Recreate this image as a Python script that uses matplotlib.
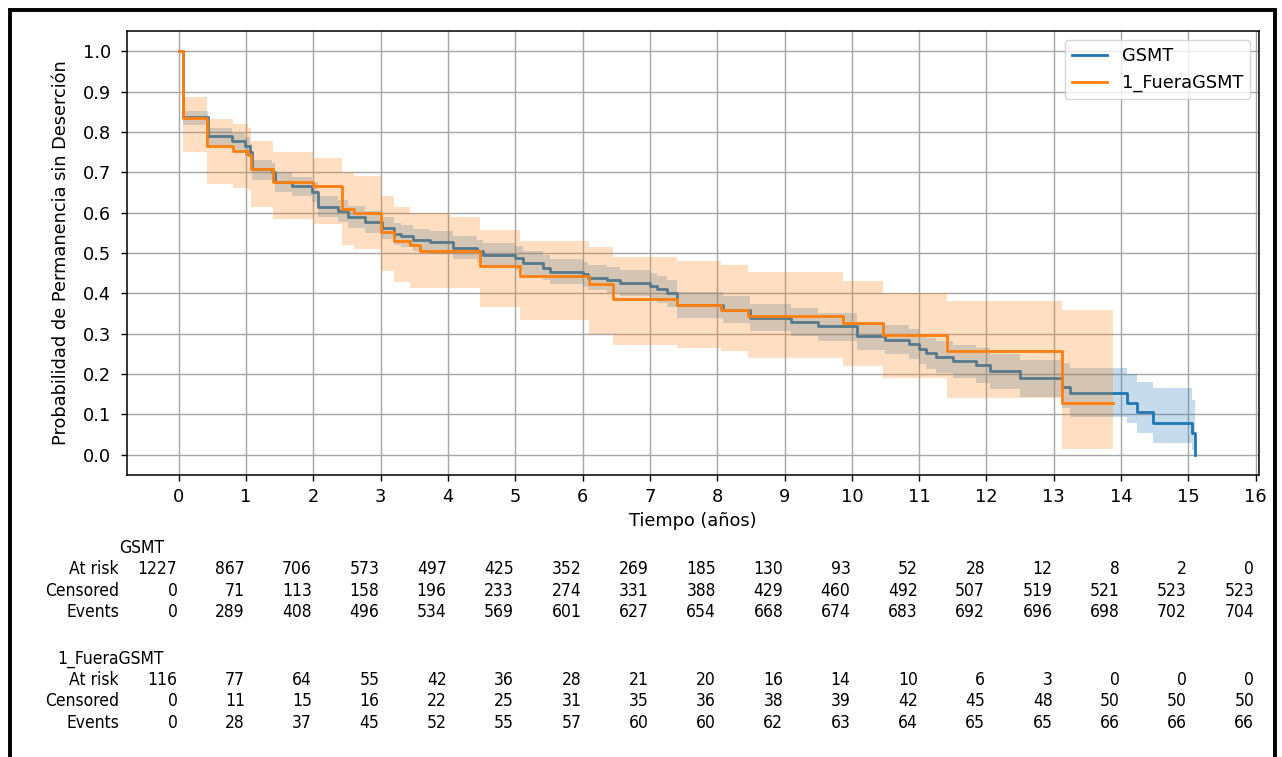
import matplotlib
matplotlib.use("Agg")
import matplotlib.pyplot as plt
from matplotlib.transforms import blended_transform_factory
from matplotlib.patches import Rectangle
from matplotlib import font_manager

# ---------------- data ----------------
gs_label = "GSMT"
fu_label = "1_FueraGSMT"

gs_t = [0, 0.06, 0.43, 0.79, 0.98, 1.06, 1.08, 1.38, 1.43, 1.68, 1.98, 2.07, 2.36, 2.51, 2.76,
        3.02, 3.2, 3.3, 3.48, 3.73, 4.07, 4.43, 4.52, 5.0, 5.11, 5.41, 5.51, 6.0, 6.08, 6.36,
        6.55, 7.0, 7.1, 7.25, 7.4, 8.08, 8.48, 9.1, 9.5, 10.07, 10.5, 10.85, 11.0, 11.1, 11.25,
        11.5, 11.85, 12.05, 12.5, 13.12, 13.24, 14.09, 14.23, 14.47, 15.05, 15.1]
gs_s = [1.0, 0.836, 0.789, 0.777, 0.765, 0.749, 0.707, 0.70, 0.677, 0.665, 0.652, 0.615, 0.605, 0.59, 0.578,
        0.562, 0.548, 0.543, 0.533, 0.527, 0.513, 0.504, 0.496, 0.488, 0.476, 0.464, 0.454, 0.447, 0.439, 0.434,
        0.426, 0.418, 0.41, 0.40, 0.372, 0.36, 0.34, 0.33, 0.318, 0.295, 0.285, 0.275, 0.262, 0.252, 0.243,
        0.232, 0.222, 0.207, 0.19, 0.169, 0.154, 0.129, 0.107, 0.079, 0.055, 0.0]
gs_hi = [1.0, 0.853, 0.81, 0.798, 0.787, 0.771, 0.73, 0.724, 0.701, 0.689, 0.677, 0.641, 0.631, 0.616, 0.604,
         0.589, 0.575, 0.57, 0.56, 0.555, 0.541, 0.532, 0.525, 0.517, 0.505, 0.494, 0.484, 0.477, 0.47, 0.465,
         0.457, 0.45, 0.442, 0.432, 0.404, 0.393, 0.374, 0.364, 0.352, 0.33, 0.322, 0.312, 0.30, 0.29, 0.282,
         0.273, 0.264, 0.25, 0.235, 0.228, 0.216, 0.2, 0.181, 0.166, 0.136, 0.136]
gs_lo = [1.0, 0.817, 0.766, 0.754, 0.741, 0.725, 0.682, 0.675, 0.652, 0.64, 0.626, 0.588, 0.578, 0.563, 0.55,
         0.534, 0.52, 0.515, 0.504, 0.498, 0.484, 0.475, 0.466, 0.458, 0.446, 0.433, 0.423, 0.416, 0.408, 0.402,
         0.394, 0.386, 0.377, 0.367, 0.339, 0.326, 0.306, 0.295, 0.283, 0.26, 0.249, 0.238, 0.224, 0.213, 0.203,
         0.19, 0.178, 0.162, 0.144, 0.117, 0.094, 0.079, 0.055, 0.03, 0.012, 0.0]

fu_t = [0, 0.06, 0.42, 0.8, 1.03, 1.07, 1.4, 2.0, 2.42, 2.6, 3.0, 3.2, 3.43, 3.58, 4.03,
        4.47, 5.07, 6.1, 6.45, 7.4, 8.06, 8.45, 9.87, 10.46, 11.41, 13.12, 13.88]
fu_s = [1.0, 0.835, 0.765, 0.752, 0.744, 0.707, 0.677, 0.665, 0.608, 0.60, 0.551, 0.529, 0.521, 0.504, 0.504,
        0.467, 0.442, 0.422, 0.385, 0.372, 0.36, 0.345, 0.327, 0.298, 0.256, 0.129, 0.129]
fu_hi = [1.0, 0.886, 0.831, 0.819, 0.81, 0.777, 0.749, 0.735, 0.70, 0.69, 0.64, 0.613, 0.60, 0.60, 0.588,
         0.558, 0.529, 0.516, 0.489, 0.48, 0.471, 0.452, 0.43, 0.40, 0.38, 0.36, 0.36]
fu_lo = [1.0, 0.749, 0.67, 0.662, 0.655, 0.613, 0.585, 0.572, 0.52, 0.51, 0.455, 0.427, 0.414, 0.414, 0.414,
         0.365, 0.335, 0.30, 0.273, 0.265, 0.256, 0.24, 0.22, 0.19, 0.141, 0.015, 0.015]

table_times = list(range(0, 17))
gs_at_risk = [1227, 867, 706, 573, 497, 425, 352, 269, 185, 130, 93, 52, 28, 12, 8, 2, 0]
gs_censored = [0, 71, 113, 158, 196, 233, 274, 331, 388, 429, 460, 492, 507, 519, 521, 523, 523]
gs_events = [0, 289, 408, 496, 534, 569, 601, 627, 654, 668, 674, 683, 692, 696, 698, 702, 704]
fu_at_risk = [116, 77, 64, 55, 42, 36, 28, 21, 20, 16, 14, 10, 6, 3, 0, 0, 0]
fu_censored = [0, 11, 15, 16, 22, 25, 31, 35, 36, 38, 39, 42, 45, 48, 50, 50, 50]
fu_events = [0, 28, 37, 45, 52, 55, 57, 60, 60, 62, 63, 64, 65, 65, 66, 66, 66]

y_ticks = [0.0, 0.1, 0.2, 0.3, 0.4, 0.5, 0.6, 0.7, 0.8, 0.9, 1.0]
row_names = ["At risk", "Censored", "Events"]

# ---------------- figure ----------------
W, H = 1282, 757
fig = plt.figure(figsize=(W / 100, H / 100), dpi=100)
ax = fig.add_axes([127 / W, 1 - 475 / H, (1259 - 127) / W, (475 - 31) / H])

blue = "#1f77b4"
orange = "#ff7f0e"
FS = 12.8

ax.step(gs_t, gs_s, where="post", color=blue, lw=2.0, label=gs_label, zorder=3)
ax.fill_between(gs_t, gs_lo, gs_hi, step="post", color=blue, alpha=0.25, lw=0, zorder=3)
ax.step(fu_t, fu_s, where="post", color=orange, lw=2.0, label=fu_label, zorder=3)
ax.fill_between(fu_t, fu_lo, fu_hi, step="post", color=orange, alpha=0.25, lw=0, zorder=3)

ax.set_xlim(-0.77, 16.05)
ax.set_ylim(-0.05, 1.05)
ax.set_xticks(table_times)
ax.set_yticks(y_ticks)
ax.set_yticklabels([f"{v:.1f}" for v in y_ticks])
ax.tick_params(labelsize=FS, direction="out", length=4, width=1)
ax.tick_params(axis="y", pad=7.5)
ax.tick_params(axis="x", pad=5.5)
ax.grid(True, color="#a6a6a6", lw=1.0, zorder=0)
ax.set_axisbelow(True)
for sp in ax.spines.values():
    sp.set_linewidth(1.1)

ax.set_xlabel("Tiempo (años)", fontsize=FS, labelpad=4)
ax.set_ylabel("Probabilidad de Permanencia sin Deserción", fontsize=FS, labelpad=9)

ax.legend(loc="upper right", fontsize=FS, framealpha=0.8, borderaxespad=0.5)

# ---------------- at-risk table ----------------
cond = font_manager.FontProperties(family="DejaVu Sans", stretch="condensed", size=12.5)
tr = blended_transform_factory(ax.transData, fig.transFigure)
groups = [
    (gs_label, [gs_at_risk, gs_censored, gs_events], 548, [569, 591, 612]),
    (fu_label, [fu_at_risk, fu_censored, fu_events], 659, [680, 701, 723]),
]
for name, rows, yh, yrows in groups:
    fig.text(164 / W, 1 - yh / H, name, ha="right", va="center", fontproperties=cond)
    for rname, vals, yr in zip(row_names, rows, yrows):
        fig.text(119 / W, 1 - yr / H, rname, ha="right", va="center", fontproperties=cond)
        for t, v in zip(table_times, vals):
            ax.text(t - 0.02, 1 - yr / H, str(v), transform=tr, ha="right", va="center",
                    fontproperties=cond)

# outer frame
fig.add_artist(Rectangle((9.5 / W, -0.1), (1274.5 - 9.5) / W, (1 - 9.5 / H) + 0.1,
                         transform=fig.transFigure, fill=False, ec="black", lw=2.8))

fig.savefig("out.png", dpi=100)
